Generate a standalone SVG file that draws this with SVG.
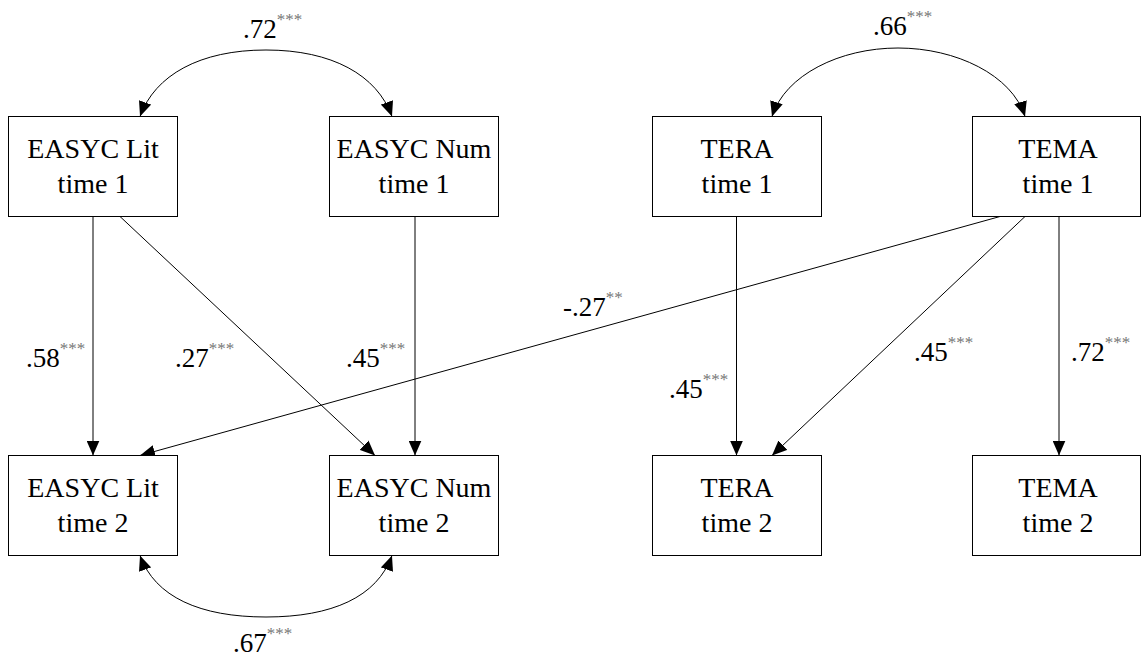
<svg xmlns="http://www.w3.org/2000/svg" width="1141" height="657" viewBox="0 0 1141 657">
<style>
.box{fill:#fff;stroke:#000;stroke-width:1}
.nt{font-family:'Liberation Serif','Times New Roman',serif;font-size:28px;fill:#000;text-anchor:middle}
.lb{font-family:'Liberation Serif','Times New Roman',serif;font-size:27px;fill:#000}
.sig{font-size:17px;fill:#777}
.ed{fill:none;stroke:#000;stroke-width:1}
</style>
<defs>
<marker id="ah" viewBox="0 0 15 13" refX="15" refY="6.5" markerWidth="15" markerHeight="13" markerUnits="userSpaceOnUse" orient="auto-start-reverse">
<path d="M0,0 L15,6.5 L0,13 Z" fill="#000"/>
</marker>
</defs>
<rect width="1141" height="657" fill="#fff"/>
<g id="connectors">
<path class="ed" d="M140,116.5 C155,75 200,50 266,50 C332,50 377,75 392,116.5" marker-start="url(#ah)" marker-end="url(#ah)"/>
<path class="ed" d="M772,116.5 C785,75 840,48 898,48 C956,48 1012,75 1025,116.5" marker-start="url(#ah)" marker-end="url(#ah)"/>
<path class="ed" d="M140,555.5 C155,597 200,617 266,617 C332,617 377,597 392,555.5" marker-start="url(#ah)" marker-end="url(#ah)"/>
<path class="ed" d="M93,216.5 L93,455.5" marker-end="url(#ah)"/>
<path class="ed" d="M415,216.5 L415,455.5" marker-end="url(#ah)"/>
<path class="ed" d="M120,216.5 L375,455.5" marker-end="url(#ah)"/>
<path class="ed" d="M1000,216.5 L140,455.5" marker-end="url(#ah)"/>
<path class="ed" d="M736.5,216.5 L736.5,455.5" marker-end="url(#ah)"/>
<path class="ed" d="M1025,216.5 L772,455.5" marker-end="url(#ah)"/>
<path class="ed" d="M1059,216.5 L1059,455.5" marker-end="url(#ah)"/>
</g>
<g id="labels">
<text class="lb" x="243" y="38">.72<tspan class="sig" dy="-13">***</tspan></text>
<text class="lb" x="873" y="35">.66<tspan class="sig" dy="-13">***</tspan></text>
<text class="lb" x="233" y="652">.67<tspan class="sig" dy="-13">***</tspan></text>
<text class="lb" x="26" y="367">.58<tspan class="sig" dy="-13">***</tspan></text>
<text class="lb" x="175" y="367">.27<tspan class="sig" dy="-13">***</tspan></text>
<text class="lb" x="346" y="367">.45<tspan class="sig" dy="-13">***</tspan></text>
<text class="lb" x="563" y="316">-.27<tspan class="sig" dy="-13">**</tspan></text>
<text class="lb" x="669" y="398">.45<tspan class="sig" dy="-13">***</tspan></text>
<text class="lb" x="914" y="361">.45<tspan class="sig" dy="-13">***</tspan></text>
<text class="lb" x="1071" y="361">.72<tspan class="sig" dy="-13">***</tspan></text>
</g>
<g id="lit1"><rect class="box" x="8.5" y="116.5" width="169" height="100"/><text class="nt" x="93" y="158">EASYC Lit</text><text class="nt" x="93" y="193">time 1</text></g>
<g id="num1"><rect class="box" x="329.5" y="116.5" width="169" height="100"/><text class="nt" x="414" y="158">EASYC Num</text><text class="nt" x="414" y="193">time 1</text></g>
<g id="tera1"><rect class="box" x="652.5" y="116.5" width="169" height="100"/><text class="nt" x="737" y="158">TERA</text><text class="nt" x="737" y="193">time 1</text></g>
<g id="tema1"><rect class="box" x="972.5" y="116.5" width="168" height="100"/><text class="nt" x="1058" y="158">TEMA</text><text class="nt" x="1058" y="193">time 1</text></g>
<g id="lit2"><rect class="box" x="8.5" y="455.5" width="169" height="100"/><text class="nt" x="93" y="497">EASYC Lit</text><text class="nt" x="93" y="532">time 2</text></g>
<g id="num2"><rect class="box" x="329.5" y="455.5" width="169" height="100"/><text class="nt" x="414" y="497">EASYC Num</text><text class="nt" x="414" y="532">time 2</text></g>
<g id="tera2"><rect class="box" x="652.5" y="455.5" width="169" height="100"/><text class="nt" x="737" y="497">TERA</text><text class="nt" x="737" y="532">time 2</text></g>
<g id="tema2"><rect class="box" x="972.5" y="455.5" width="168" height="100"/><text class="nt" x="1058" y="497">TEMA</text><text class="nt" x="1058" y="532">time 2</text></g>
</svg>
